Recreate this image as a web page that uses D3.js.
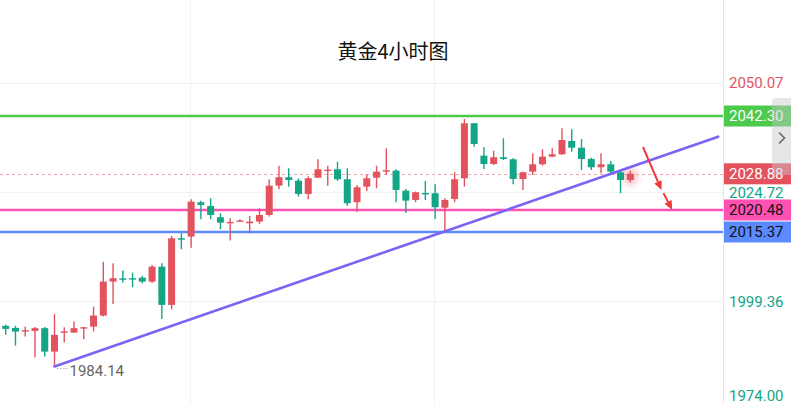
<!DOCTYPE html>
<html><head><meta charset="utf-8">
<script src="https://cdn.jsdelivr.net/npm/d3@7"></script>
<style>html,body{margin:0;padding:0;background:#fff;overflow:hidden}</style>
</head><body><div id="chart"></div>
<script>
// ---- data ----
const title = "黄金4小时图";
const opens  = [1993.58,1993.11,1992.42,1992.42,1993.04,1987.61,1992.10,1992.02,1993.10,1993.41,1995.97,2003.85,2004.60,2004.64,2004.78,2003.85,2007.33,1998.45,2013.92,2014.30,2022.28,2021.42,2018.80,2017.54,2017.94,2017.40,2017.78,2019.33,2026.13,2028.08,2027.29,2024.20,2027.98,2029.65,2029.93,2027.61,2022.28,2025.90,2027.98,2029.55,2029.61,2024.97,2022.81,2024.43,2024.36,2021.02,2023.04,2027.84,2040.61,2033.09,2031.16,2032.72,2032.25,2027.68,2029.38,2031.09,2032.86,2033.41,2036.50,2034.94,2032.32,2030.40,2031.09,2029.24,2027.45];
const highs  = [1993.81,1993.58,1993.41,1993.34,1993.34,1996.29,1993.27,1994.57,1993.34,1998.05,2008.49,2008.12,2006.41,2005.94,2005.18,2007.73,2008.12,2014.46,2015.08,2022.97,2022.65,2023.20,2019.72,2018.56,2018.33,2019.10,2020.88,2027.61,2030.77,2030.17,2027.84,2028.30,2032.25,2030.77,2031.70,2030.17,2026.29,2028.77,2030.77,2034.81,2029.93,2025.36,2024.74,2027.22,2026.45,2023.20,2029.24,2041.60,2040.70,2035.04,2034.25,2037.13,2032.49,2029.38,2033.65,2034.57,2034.81,2039.45,2039.21,2036.96,2032.62,2033.65,2031.86,2029.54,2029.60];
const lows   = [1991.49,1989.00,1991.09,1986.22,1986.45,1984.14,1989.70,1991.90,1990.49,1992.25,1995.73,1998.68,2003.62,2002.55,2003.48,2003.55,1995.20,1997.45,2011.37,2011.74,2018.33,2018.33,2016.01,2013.37,2017.80,2015.08,2017.24,2018.94,2025.29,2025.90,2023.58,2022.97,2027.90,2026.13,2027.22,2021.49,2020.10,2024.90,2025.52,2028.61,2022.28,2019.86,2022.28,2022.81,2018.40,2015.62,2022.28,2025.90,2035.18,2030.00,2030.93,2032.09,2026.45,2025.13,2028.61,2030.77,2032.72,2033.30,2034.02,2029.77,2029.77,2029.01,2028.77,2024.36,2026.85];
const closes = [1992.88,1992.25,1992.58,1993.04,1987.61,1991.49,1992.30,1993.04,1993.27,1995.97,2003.85,2004.64,2004.36,2004.40,2003.85,2007.33,1998.45,2013.92,2013.65,2022.42,2021.65,2019.33,2017.54,2017.71,2018.05,2017.78,2019.33,2026.13,2028.08,2027.45,2024.20,2027.84,2029.93,2029.85,2027.61,2022.04,2025.76,2027.84,2029.38,2029.70,2025.13,2022.65,2024.60,2024.20,2021.12,2022.81,2027.61,2040.61,2035.80,2031.16,2032.72,2032.32,2027.68,2029.24,2031.09,2032.86,2033.41,2036.73,2034.94,2032.32,2030.40,2031.09,2029.38,2027.45,2028.88];

const axisTicks = [2050.07, 2024.72, 1999.36, 1974.00];
const timeGridIdx = [18.9, 43.9];
const levelPrices = [2042.30, 2020.48, 2015.37];
const levelNames  = ["green", "pink", "blue"];
const lastPrice = 2028.88;
const trendIdx   = [5, 73];
const trendPrice = [1984.14, 2037.5];
const lowLabel = "1984.14";
const arrowsStartIdx = [65.3, 67.4], arrowsStartPrice = [2035.1, 2024.4];
const arrowsEndIdx   = [67.2, 68.3], arrowsEndPrice   = [2025.1, 2020.5];

// ---- styles ----
const W = 791, H = 404, plotR = 723;
const UP = "#e2535e", DOWN = "#12a586";
const levelColor = {green:"#4cca4c", pink:"#ff52b2", blue:"#5b8bff"};
const levelText  = {green:"#ffffff", pink:"#111111", blue:"#111111"};
const font = "Roboto, 'Noto Sans', sans-serif";

const svg = d3.select("#chart").append("svg").attr("width", W).attr("height", H);
const x = d3.scaleLinear().domain([0, 64]).range([5.7, 630.3]);
const y = d3.scaleLinear().domain([2015.37, 2042.30]).range([232, 116]);

const defs = svg.append("defs");
defs.append("filter").attr("id","glow").attr("x","-200%").attr("y","-200%").attr("width","500%").attr("height","500%")
  .append("feGaussianBlur").attr("stdDeviation", 3.5);

// grid
const g = svg.append("g");
g.selectAll(".hg").data(axisTicks).join("line")
  .attr("x1",0).attr("x2",plotR).attr("y1",d=>Math.round(y(d))+0.5).attr("y2",d=>Math.round(y(d))+0.5)
  .attr("stroke","#f0f1f5").attr("stroke-width",1);
g.selectAll(".vg").data(timeGridIdx).join("line")
  .attr("x1",d=>Math.round(x(d))+0.5).attr("x2",d=>Math.round(x(d))+0.5).attr("y1",0).attr("y2",H)
  .attr("stroke","#f0f1f5").attr("stroke-width",1);

// title
svg.append("text").attr("x", 393).attr("y", 59).attr("text-anchor","middle")
  .attr("font-family","'Noto Sans CJK SC', sans-serif").attr("font-size",20).attr("fill","#111")
  .text(title);

// level lines
levelPrices.forEach((p,i)=>{
  svg.append("line").attr("x1",0).attr("x2",plotR).attr("y1",y(p)).attr("y2",y(p))
    .attr("stroke",levelColor[levelNames[i]]).attr("stroke-width", 2.6);
});

// current price dashed line
svg.append("line").attr("x1",0).attr("x2",plotR).attr("y1",Math.round(y(lastPrice))+0.5).attr("y2",Math.round(y(lastPrice))+0.5)
  .attr("stroke","#eea3aa").attr("stroke-width",1).attr("stroke-dasharray","3,3");

// candles
const candles = opens.map((o,i)=>({i, o, h:highs[i], l:lows[i], c:closes[i]}));
const bw = 7;
const cg = svg.append("g");
function drawCandle(sel){
  sel.append("line")
    .attr("x1",d=>x(d.i)).attr("x2",d=>x(d.i))
    .attr("y1",d=>y(d.h)).attr("y2",d=>y(d.l))
    .attr("stroke",d=>d.c>=d.o?UP:DOWN).attr("stroke-width",1.4);
  sel.append("rect")
    .attr("x",d=>x(d.i)-bw/2).attr("width",bw)
    .attr("y",d=>y(Math.max(d.o,d.c)))
    .attr("height",d=>Math.max(1.4, Math.abs(y(d.o)-y(d.c))))
    .attr("fill",d=>d.c>=d.o?UP:DOWN);
}
// glow behind last candle
const last = candles[candles.length-1];
svg.insert("ellipse", "g").attr("cx", x(last.i)).attr("cy", (y(last.h)+y(last.l))/2)
  .attr("rx", 7).attr("ry", 9).attr("fill", UP).attr("opacity", 0.35).attr("filter","url(#glow)");
cg.selectAll("g").data(candles).join("g").call(drawCandle);

// trend line
svg.append("line")
  .attr("x1",x(trendIdx[0])).attr("y1",y(trendPrice[0]))
  .attr("x2",x(trendIdx[1])).attr("y2",y(trendPrice[1]))
  .attr("stroke","#7b63f4").attr("stroke-width",2.6).attr("stroke-linecap","round");

// low label
const lowI = lows.indexOf(d3.min(lows));
svg.append("line").attr("x1",x(lowI)+3).attr("x2",x(lowI)+13).attr("y1",y(lows[lowI])+2).attr("y2",y(lows[lowI])+2)
  .attr("stroke","#888").attr("stroke-width",1).attr("stroke-dasharray","1,2");
svg.append("text").attr("x",x(lowI)+15).attr("y",y(lows[lowI])+9)
  .attr("font-family",font).attr("font-size",15).attr("fill","#666").text(lowLabel);

// arrows
arrowsStartIdx.forEach((si,k)=>{
  const x1=x(si), y1=y(arrowsStartPrice[k]), x2=x(arrowsEndIdx[k]), y2=y(arrowsEndPrice[k]);
  const ang = Math.atan2(y2-y1, x2-x1), L=9, Wd=4;
  const bx = x2 - L*Math.cos(ang), by = y2 - L*Math.sin(ang);
  svg.append("line").attr("x1",x1).attr("y1",y1).attr("x2",bx).attr("y2",by)
    .attr("stroke","#ef3a3a").attr("stroke-width",2);
  const px = -Math.sin(ang)*Wd, py = Math.cos(ang)*Wd;
  svg.append("path").attr("d",`M${x2},${y2}L${bx+px},${by+py}L${bx-px},${by-py}Z`).attr("fill","#ef3a3a");
});

// right axis
svg.append("rect").attr("x",plotR).attr("y",0).attr("width",W-plotR).attr("height",H).attr("fill","#fff");
svg.append("line").attr("x1",plotR+0.5).attr("x2",plotR+0.5).attr("y1",0).attr("y2",H).attr("stroke","#e6e7ee");
svg.selectAll(".tick").data(axisTicks).join("text")
  .attr("x",729).attr("y",d=>Math.min(y(d)+2, H-7)).attr("dominant-baseline","middle")
  .attr("font-family",font).attr("font-size",15)
  .attr("fill",d=>d>lastPrice?UP:DOWN).text(d=>d.toFixed(2));

function badge(p, bg, fg){
  const yy = y(p);
  svg.append("rect").attr("x",plotR+1).attr("y",yy-10.5).attr("width",W-plotR).attr("height",21).attr("fill",bg);
  svg.append("text").attr("x",729).attr("y",yy+1).attr("dominant-baseline","middle")
    .attr("font-family",font).attr("font-size",15).attr("fill",fg).text(p.toFixed(2));
}
levelPrices.forEach((p,i)=>{ if(levelNames[i]==="green") badge(p, levelColor.green, levelText.green); });
badge(lastPrice, UP, "#fff");
levelPrices.forEach((p,i)=>{ if(levelNames[i]!=="green") badge(p, levelColor[levelNames[i]], levelText[levelNames[i]]); });

// scroll button overlay
svg.append("rect").attr("x",772).attr("y",98).attr("width",30).attr("height",77).attr("rx",4)
  .attr("fill","rgba(200,200,206,0.45)");
svg.append("path").attr("d","M779,132.5L784.5,138L779,143.5").attr("fill","none")
  .attr("stroke","#666").attr("stroke-width",1.6);
</script></body></html>
